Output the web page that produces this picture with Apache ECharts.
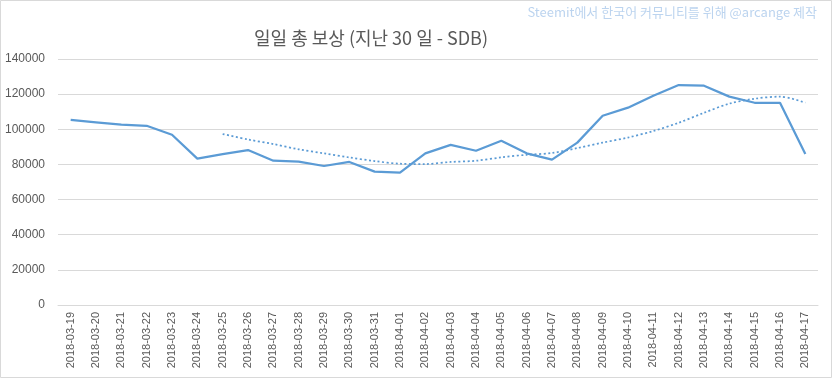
<!DOCTYPE html>
<html>
<head>
<meta charset="utf-8">
<script src="https://cdn.jsdelivr.net/npm/echarts@6/dist/echarts.min.js"></script>
<style>
html,body{margin:0;padding:0;background:#fff;}
#c{width:833px;height:379px;}
</style>
</head>
<body>
<div id="c"></div>
<script>
const categories = ['2018-03-19','2018-03-20','2018-03-21','2018-03-22','2018-03-23','2018-03-24','2018-03-25','2018-03-26','2018-03-27','2018-03-28','2018-03-29','2018-03-30','2018-03-31','2018-04-01','2018-04-02','2018-04-03','2018-04-04','2018-04-05','2018-04-06','2018-04-07','2018-04-08','2018-04-09','2018-04-10','2018-04-11','2018-04-12','2018-04-13','2018-04-14','2018-04-15','2018-04-16','2018-04-17'];
const dailyReward = [105300,104000,102600,102000,96900,83300,85900,88200,82100,81600,79100,81400,75900,75300,86300,91100,87800,93500,86300,82700,92400,107700,112300,119100,125200,124800,118600,115100,115100,85900];
const trend = [null,null,null,null,null,null,97300,94200,91600,88600,86300,84000,81900,80400,80200,81400,82100,84000,85500,86500,89300,92400,95300,99000,103700,109400,114600,117400,118600,115100];
const yTicks = [0,20000,40000,60000,80000,100000,120000,140000];
const titleText = '일일 총 보상 (지난 30 일 - SDB)';
const watermark = 'Steemit에서 한국어 커뮤니티를 위해 @arcange 제작';

const chart = echarts.init(document.getElementById('c'), null, {renderer:'canvas'});
chart.setOption({
  animation:false,
  backgroundColor:'#fff',
  title:[{
    text:titleText, left:366, top:24, textAlign:'center',
    textStyle:{fontFamily:'Noto Sans CJK KR', fontWeight:'normal', fontSize:18, color:'#595959'}
  },{
    text:watermark, right:11, top:1,
    textStyle:{fontFamily:'Noto Sans CJK KR', fontWeight:'normal', fontSize:13, color:'#bcd4ef'}
  }],
  graphic:[{type:'rect', shape:{x:0.5,y:0.5,width:831,height:377}, style:{fill:null, stroke:'#d9d9d9', lineWidth:1}, silent:true}],
  grid:{left:58, right:15, top:59, bottom:74, containLabel:false},
  xAxis:{
    type:'category', data:categories, boundaryGap:true,
    axisLine:{show:true, lineStyle:{color:'#d9d9d9'}},
    axisTick:{show:false},
    axisLabel:{rotate:90, interval:0, color:'#595959', fontSize:11, fontFamily:'Liberation Sans', margin:7}
  },
  yAxis:{
    type:'value', min:yTicks[0], max:yTicks[yTicks.length-1], interval:20000,
    axisLine:{show:false}, axisTick:{show:false},
    splitLine:{lineStyle:{color:'#d9d9d9'}},
    axisLabel:{color:'#595959', fontSize:12, fontFamily:'Liberation Sans', margin:13, formatter:function(v){return String(v);}}
  },
  series:[{
    type:'line', data:dailyReward, symbol:'none',
    lineStyle:{color:'#5b9bd5', width:2.25}, itemStyle:{color:'#5b9bd5'}
  },{
    type:'line', data:trend, symbol:'none', smooth:0.3,
    lineStyle:{color:'#5b9bd5', width:1.75, type:[2,2.5]}, itemStyle:{color:'#5b9bd5'}
  }]
});
</script>
</body>
</html>
